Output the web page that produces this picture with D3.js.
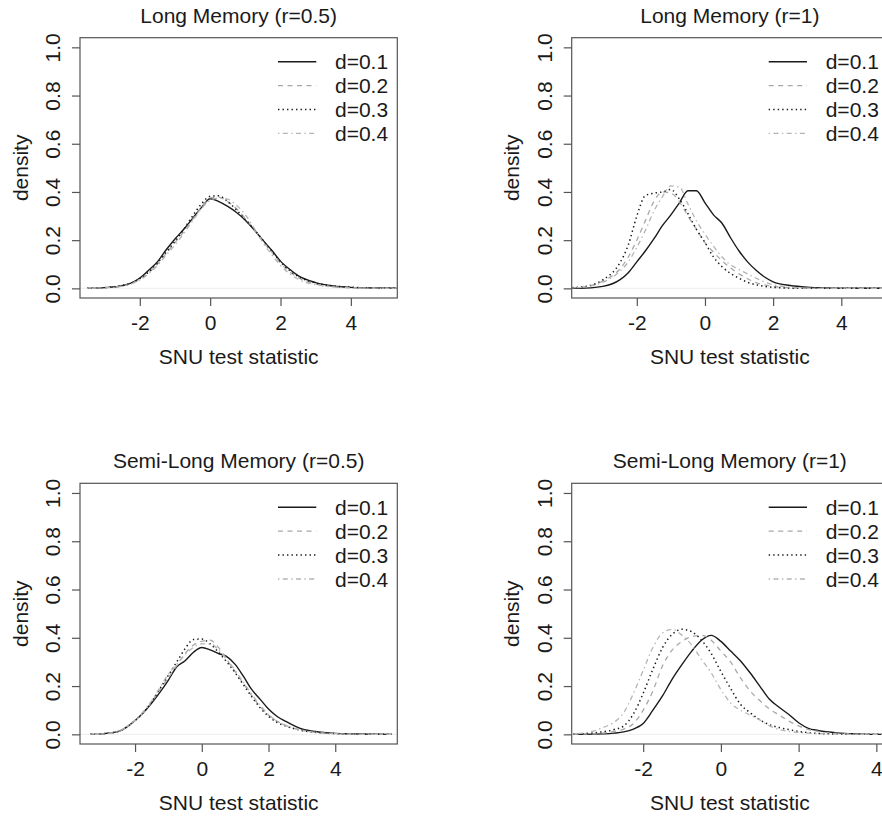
<!DOCTYPE html>
<html><head><meta charset="utf-8">
<script src="https://cdn.jsdelivr.net/npm/d3@7"></script>
<style>
body{margin:0;background:#fff;}
text{font-family:"Liberation Sans",Arial,Helvetica,sans-serif;fill:#1a1a1a;}
</style></head>
<body><svg id="chart" width="882" height="816"></svg>
<script>
// ---------- data ----------
const titles = ["Long Memory (r=0.5)", "Long Memory (r=1)", "Semi-Long Memory (r=0.5)", "Semi-Long Memory (r=1)"];
const seriesNames = ["d=0.1", "d=0.2", "d=0.3", "d=0.4"];
const xTicks = [-2, 0, 2, 4];
const yTicks = [0.0, 0.2, 0.4, 0.6, 0.8, 1.0];
const xLabel = "SNU test statistic";
const yLabel = "density";

// panel 1: Long Memory (r=0.5)
const p1X  = [-3.5,-3,-2.5,-2.25,-2,-1.75,-1.5,-1.25,-1,-0.75,-0.5,-0.25,0,0.25,0.5,0.75,1,1.25,1.5,1.75,2,2.25,2.5,3,3.5,4,4.5,5.3];
const p1D1 = [0,0.003,0.011,0.022,0.043,0.075,0.11,0.16,0.205,0.245,0.29,0.335,0.372,0.36,0.34,0.315,0.283,0.243,0.2,0.158,0.113,0.08,0.053,0.024,0.01,0.004,0.002,0.001];
const p1D2 = [0,0.003,0.01,0.02,0.038,0.065,0.1,0.145,0.19,0.235,0.285,0.335,0.375,0.378,0.36,0.33,0.29,0.245,0.195,0.15,0.105,0.07,0.045,0.018,0.007,0.003,0.001,0];
const p1D3 = [0,0.003,0.012,0.022,0.04,0.068,0.105,0.15,0.195,0.245,0.3,0.35,0.382,0.384,0.36,0.325,0.285,0.245,0.2,0.155,0.11,0.075,0.05,0.022,0.01,0.005,0.002,0.001];
const p1D4 = [0,0.002,0.008,0.018,0.035,0.06,0.095,0.138,0.18,0.228,0.28,0.33,0.365,0.375,0.37,0.345,0.305,0.25,0.19,0.14,0.095,0.062,0.038,0.015,0.006,0.002,0.001,0];

// panel 2: Long Memory (r=1)
const p2X  = [-3.9,-3.5,-3,-2.5,-2.25,-2,-1.75,-1.5,-1.25,-1,-0.75,-0.5,-0.25,0,0.25,0.5,0.75,1,1.25,1.5,1.75,2,2.5,3,3.5,4,5.4];
const p2D1 = [0,0.001,0.008,0.035,0.065,0.11,0.155,0.205,0.26,0.305,0.355,0.405,0.405,0.355,0.305,0.27,0.21,0.155,0.11,0.075,0.047,0.027,0.012,0.005,0.002,0.001,0];
const p2D2 = [0.002,0.007,0.03,0.08,0.13,0.2,0.28,0.36,0.40,0.395,0.36,0.30,0.245,0.19,0.15,0.115,0.085,0.06,0.04,0.024,0.014,0.008,0.002,0,0,0,0];
const p2D3 = [0.003,0.008,0.035,0.105,0.18,0.30,0.385,0.395,0.40,0.41,0.37,0.31,0.245,0.19,0.13,0.09,0.062,0.042,0.025,0.015,0.008,0.004,0.001,0,0,0,0];
const p2D4 = [0.002,0.006,0.025,0.07,0.11,0.17,0.24,0.32,0.38,0.425,0.42,0.35,0.28,0.225,0.175,0.13,0.098,0.078,0.06,0.042,0.026,0.015,0.005,0.001,0,0,0];

// panel 3: Semi-Long Memory (r=0.5)
const p3X  = [-3.35,-3,-2.5,-2.25,-2,-1.75,-1.5,-1.25,-1,-0.75,-0.5,-0.25,0,0.25,0.5,0.75,1,1.25,1.5,1.75,2,2.25,2.5,3,3.5,4,4.5,5,5.7];
const p3D1 = [0,0.002,0.012,0.03,0.057,0.09,0.13,0.175,0.225,0.28,0.305,0.34,0.36,0.35,0.335,0.322,0.29,0.24,0.185,0.145,0.105,0.075,0.055,0.022,0.01,0.004,0.002,0.001,0];
const p3D2 = [0,0.002,0.012,0.03,0.057,0.09,0.135,0.185,0.235,0.285,0.335,0.37,0.385,0.39,0.36,0.31,0.26,0.21,0.16,0.115,0.08,0.055,0.038,0.017,0.007,0.003,0.001,0,0];
const p3D3 = [0,0.002,0.012,0.03,0.057,0.09,0.135,0.19,0.245,0.30,0.355,0.393,0.395,0.375,0.34,0.30,0.255,0.205,0.155,0.11,0.075,0.05,0.035,0.016,0.007,0.003,0.001,0,0];
const p3D4 = [0,0.002,0.013,0.03,0.058,0.095,0.14,0.195,0.25,0.29,0.33,0.36,0.375,0.375,0.35,0.31,0.265,0.215,0.165,0.12,0.082,0.055,0.038,0.017,0.007,0.003,0.001,0,0];

// panel 4: Semi-Long Memory (r=1)
const p4X  = [-3.8,-3.5,-3,-2.75,-2.5,-2.25,-2,-1.75,-1.5,-1.25,-1,-0.75,-0.5,-0.25,0,0.25,0.5,0.75,1,1.25,1.5,1.75,2,2.25,2.5,3,3.5,4,4.3];
const p4D1 = [0,0,0.002,0.005,0.01,0.022,0.045,0.10,0.16,0.23,0.29,0.345,0.39,0.41,0.385,0.345,0.305,0.255,0.20,0.145,0.112,0.082,0.048,0.025,0.016,0.006,0.002,0,0];
const p4D2 = [0,0.001,0.006,0.012,0.022,0.045,0.1,0.18,0.285,0.35,0.385,0.405,0.41,0.39,0.345,0.3,0.235,0.18,0.14,0.105,0.08,0.055,0.035,0.02,0.012,0.004,0.001,0,0];
const p4D3 = [0.001,0.003,0.012,0.02,0.035,0.085,0.17,0.27,0.36,0.415,0.435,0.425,0.39,0.335,0.26,0.19,0.125,0.09,0.06,0.04,0.028,0.02,0.012,0.007,0.004,0.001,0,0,0];
const p4D4 = [0.002,0.006,0.03,0.05,0.09,0.17,0.265,0.36,0.42,0.435,0.41,0.37,0.31,0.255,0.185,0.13,0.10,0.08,0.06,0.035,0.02,0.012,0.008,0.005,0.003,0.001,0,0,0];

const panelX = [p1X, p2X, p3X, p4X];
const panelD = [[p1D1,p1D2,p1D3,p1D4],[p2D1,p2D2,p2D3,p2D4],[p3D1,p3D2,p3D3,p3D4],[p4D1,p4D2,p4D3,p4D4]];
const xDomains = [[-3.70,5.32],[-3.91,5.37],[-3.65,5.86],[-3.84,4.30]];

// ---------- layout / style ----------
const boxes = [
  {l:80,   r:397.3, t:37.7,  b:298},
  {l:571.7,r:888,   t:37.7,  b:298},
  {l:80,   r:397.3, t:483.3, b:744},
  {l:571.7,r:888,   t:483.3, b:744}
];
const styles = [
  {stroke:"#1a1a1a", dash:null,               w:1.4},
  {stroke:"#a8a8a8", dash:"5,4.5",            w:1.3},
  {stroke:"#1a1a1a", dash:"1.4,3.1",          w:1.5},
  {stroke:"#b4b4b4", dash:"1.4,3.4,5,3.4",    w:1.3}
];
const FS = 21;

const svg = d3.select("#chart");
svg.append("rect").attr("width",882).attr("height",816).attr("fill","#fff");

boxes.forEach((bx, pi) => {
  const x = d3.scaleLinear().domain(xDomains[pi]).range([bx.l, bx.r]);
  const y = d3.scaleLinear().domain([-0.04, 1.04]).range([bx.b, bx.t]);
  const g = svg.append("g");

  const clipId = "clip" + pi;
  svg.append("clipPath").attr("id", clipId).append("rect")
    .attr("x", bx.l).attr("y", bx.t).attr("width", bx.r - bx.l).attr("height", bx.b - bx.t);

  // faint zero line
  g.append("line").attr("x1", bx.l).attr("x2", bx.r).attr("y1", y(0)).attr("y2", y(0))
    .attr("stroke", "#ececec").attr("stroke-width", 1).attr("clip-path", `url(#${clipId})`);

  // curves
  const line = d3.line().x(d => x(d[0])).y(d => y(d[1])).curve(d3.curveMonotoneX);
  panelD[pi].forEach((vals, si) => {
    const pts = panelX[pi].map((xv, k) => [xv, vals[k]]);
    const st = styles[si];
    g.append("path").datum(pts).attr("d", line)
      .attr("fill", "none").attr("stroke", st.stroke).attr("stroke-width", st.w)
      .attr("stroke-dasharray", st.dash).attr("clip-path", `url(#${clipId})`);
  });

  // box
  g.append("rect").attr("x", bx.l).attr("y", bx.t).attr("width", bx.r - bx.l).attr("height", bx.b - bx.t)
    .attr("fill", "none").attr("stroke", "#555").attr("stroke-width", 1.2);

  // x axis
  const xa = g.append("g").attr("transform", `translate(0,${bx.b})`)
    .call(d3.axisBottom(x).tickValues(xTicks).tickSize(8).tickPadding(6).tickSizeOuter(0).tickFormat(d3.format("d")));
  xa.select(".domain").remove();
  xa.selectAll(".tick line").attr("stroke", "#555").attr("stroke-width", 1.2);
  xa.selectAll(".tick text").attr("font-size", FS).attr("fill", "#1a1a1a").attr("dy", null)
    .attr("dominant-baseline", "central")
    .attr("y", 24.5).text(d => d < 0 ? "-" + Math.abs(d) : d);

  // y axis
  const ya = g.append("g").attr("transform", `translate(${bx.l},0)`)
    .call(d3.axisLeft(y).tickValues(yTicks).tickSize(8).tickSizeOuter(0).tickFormat(d3.format(".1f")));
  ya.select(".domain").remove();
  ya.selectAll(".tick line").attr("stroke", "#555").attr("stroke-width", 1.2);
  ya.selectAll(".tick text").attr("font-size", FS).attr("fill", "#1a1a1a")
    .attr("x", null).attr("dy", null)
    .attr("text-anchor", "middle").attr("dominant-baseline", "central")
    .attr("transform", "translate(-27.5,0) rotate(-90)");

  // titles
  const cx = (bx.l + bx.r) / 2;
  g.append("text").attr("x", cx).attr("y", bx.t - 22.5).attr("text-anchor", "middle")
    .attr("dominant-baseline", "central").attr("font-size", FS).text(titles[pi]);
  g.append("text").attr("x", cx).attr("y", bx.b + 58).attr("text-anchor", "middle")
    .attr("dominant-baseline", "central").attr("font-size", FS).text(xLabel);
  g.append("text").attr("transform", `translate(${bx.l - 60},${(bx.t + bx.b) / 2}) rotate(-90)`)
    .attr("text-anchor", "middle").attr("dominant-baseline", "central").attr("font-size", FS).text(yLabel);

  // legend
  seriesNames.forEach((nm, si) => {
    const ly = bx.t + 24 + si * 23.9;
    const st = styles[si];
    g.append("line").attr("x1", bx.r - 119.3).attr("x2", bx.r - 81).attr("y1", ly).attr("y2", ly)
      .attr("stroke", st.stroke).attr("stroke-width", st.w).attr("stroke-dasharray", st.dash);
    g.append("text").attr("x", bx.r - 62.3).attr("y", ly).attr("dominant-baseline", "central")
      .attr("font-size", FS).text(nm);
  });
});
</script></body></html>
